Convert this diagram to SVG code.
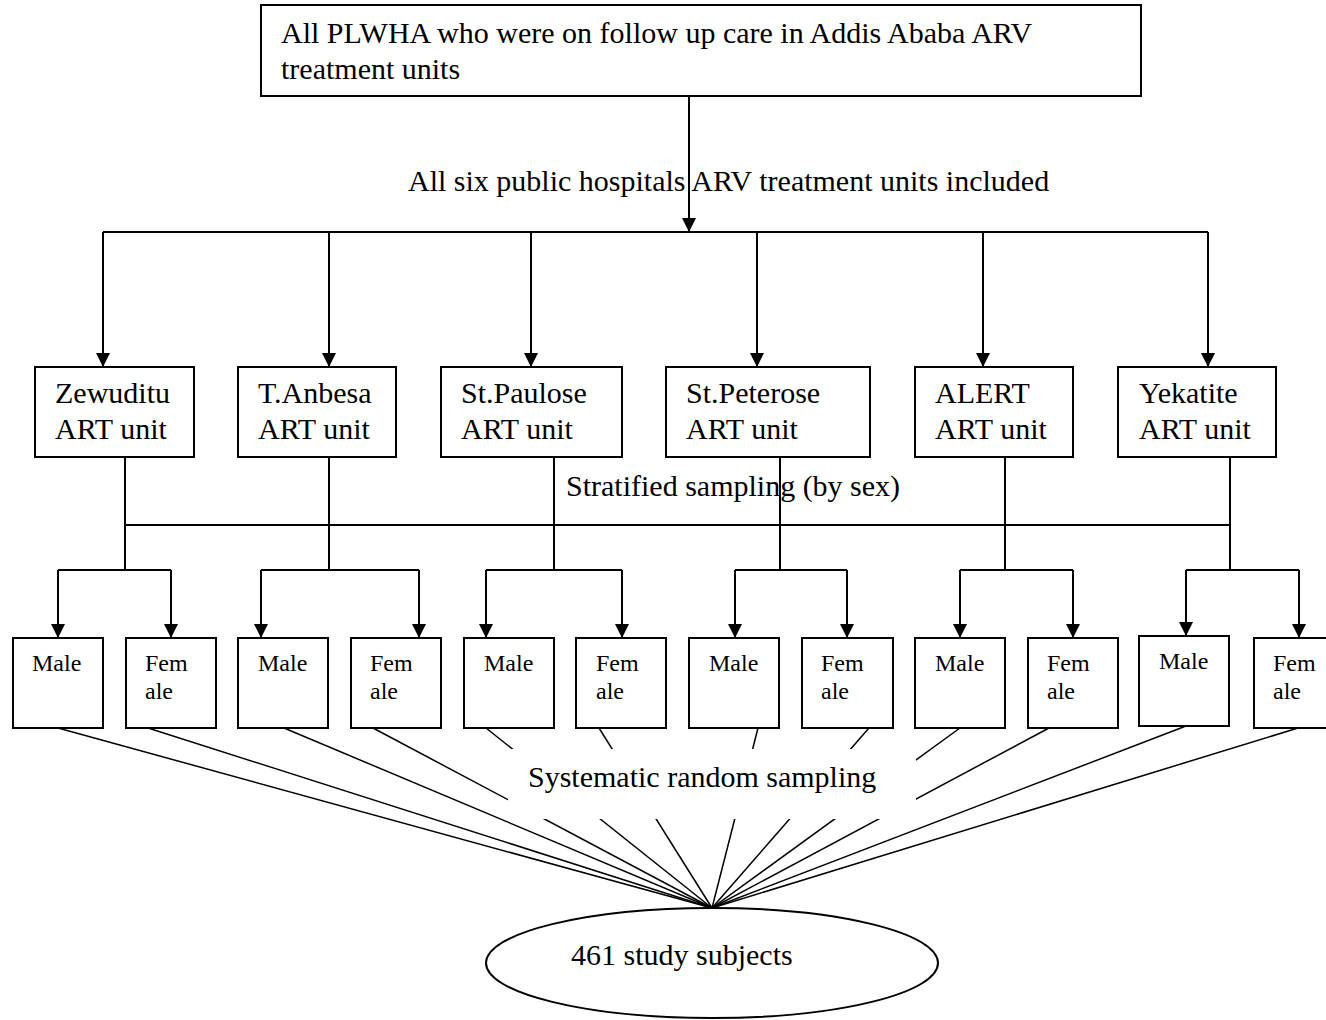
<svg xmlns="http://www.w3.org/2000/svg" width="1326" height="1020" viewBox="0 0 1326 1020">
  <style>
    .box { fill: #ffffff; stroke: #000000; stroke-width: 2; }
    .t { font-family: "Liberation Serif", "Times New Roman", serif; font-size: 30px; fill: #000000; }
    .s { font-family: "Liberation Serif", "Times New Roman", serif; font-size: 24px; fill: #000000; }
    .ln { fill: none; stroke: #000000; stroke-width: 2; }
    .fan { fill: none; stroke: #000000; stroke-width: 1.5; }
    .arr { fill: none; stroke: #000000; stroke-width: 2; marker-end: url(#ah); }
  </style>
  <defs>
    <marker id="ah" viewBox="0 0 14 14" refX="14" refY="7" markerWidth="14" markerHeight="14" markerUnits="userSpaceOnUse" orient="auto">
      <path d="M0,0 L14,7 L0,14 z" fill="#000000"/>
    </marker>
  </defs>
  <rect x="0" y="0" width="1326" height="1020" fill="#ffffff"/>

  <g id="connectors">
    <!-- top to hospitals -->
    <line class="arr" x1="689" y1="96" x2="689" y2="232"/>
    <line class="ln" x1="103" y1="232" x2="1208" y2="232"/>
    <line class="arr" x1="103" y1="232" x2="103" y2="367"/>
    <line class="arr" x1="329" y1="232" x2="329" y2="367"/>
    <line class="arr" x1="531" y1="232" x2="531" y2="367"/>
    <line class="arr" x1="757" y1="232" x2="757" y2="367"/>
    <line class="arr" x1="983" y1="232" x2="983" y2="367"/>
    <line class="arr" x1="1208" y1="232" x2="1208" y2="367"/>
    <!-- stratified -->
    <line class="ln" x1="125" y1="525" x2="1230" y2="525"/>
    <line class="ln" x1="125" y1="457" x2="125" y2="570"/>
    <line class="ln" x1="329" y1="457" x2="329" y2="570"/>
    <line class="ln" x1="554" y1="457" x2="554" y2="570"/>
    <line class="ln" x1="780" y1="457" x2="780" y2="570"/>
    <line class="ln" x1="1005" y1="457" x2="1005" y2="570"/>
    <line class="ln" x1="1230" y1="457" x2="1230" y2="570"/>
    <polyline class="ln" points="58,570 171,570"/>
    <polyline class="ln" points="261,570 419,570"/>
    <polyline class="ln" points="486,570 622,570"/>
    <polyline class="ln" points="735,570 847,570"/>
    <polyline class="ln" points="960,570 1073,570"/>
    <polyline class="ln" points="1186,570 1299,570"/>
    <line class="arr" x1="58" y1="570" x2="58" y2="638"/>
    <line class="arr" x1="171" y1="570" x2="171" y2="638"/>
    <line class="arr" x1="261" y1="570" x2="261" y2="638"/>
    <line class="arr" x1="419" y1="570" x2="419" y2="638"/>
    <line class="arr" x1="486" y1="570" x2="486" y2="638"/>
    <line class="arr" x1="622" y1="570" x2="622" y2="638"/>
    <line class="arr" x1="735" y1="570" x2="735" y2="638"/>
    <line class="arr" x1="847" y1="570" x2="847" y2="638"/>
    <line class="arr" x1="960" y1="570" x2="960" y2="638"/>
    <line class="arr" x1="1073" y1="570" x2="1073" y2="638"/>
    <line class="arr" x1="1186" y1="570" x2="1186" y2="636"/>
    <line class="arr" x1="1299" y1="570" x2="1299" y2="638"/>
    <!-- fan to study subjects -->
    <line class="fan" x1="58" y1="728" x2="712" y2="908"/>
    <line class="fan" x1="148" y1="728" x2="712" y2="908"/>
    <line class="fan" x1="284" y1="728" x2="712" y2="908"/>
    <line class="fan" x1="373" y1="728" x2="712" y2="908"/>
    <line class="fan" x1="486" y1="728" x2="712" y2="908"/>
    <line class="fan" x1="599" y1="728" x2="712" y2="908"/>
    <line class="fan" x1="758" y1="728" x2="712" y2="908"/>
    <line class="fan" x1="869" y1="728" x2="712" y2="908"/>
    <line class="fan" x1="960" y1="728" x2="712" y2="908"/>
    <line class="fan" x1="1049" y1="728" x2="712" y2="908"/>
    <line class="fan" x1="1186" y1="726" x2="712" y2="908"/>
    <line class="fan" x1="1298" y1="728" x2="712" y2="908"/>
  </g>

  <g id="label-hospitals">
    <text class="t" x="408" y="191">All six public hospitals ARV treatment units included</text>
  </g>
  <g id="label-stratified">
    <text class="t" x="566" y="496">Stratified sampling (by sex)</text>
  </g>
  <g id="label-systematic">
    <rect x="508" y="749" width="408" height="70" fill="#ffffff"/>
    <text class="t" x="528" y="787">Systematic random sampling</text>
  </g>

  <g id="node-all">
    <rect class="box" x="261" y="5" width="880" height="91"/>
    <text class="t" x="281" y="43">All PLWHA who were on follow up care in Addis Ababa ARV</text>
    <text class="t" x="281" y="79">treatment units</text>
  </g>

  <g id="node-zewuditu">
    <rect class="box" x="35" y="367" width="159" height="90"/>
    <text class="t" x="55" y="403">Zewuditu</text>
    <text class="t" x="55" y="439">ART unit</text>
  </g>
  <g id="node-tanbesa">
    <rect class="box" x="238" y="367" width="158" height="90"/>
    <text class="t" x="258" y="403">T.Anbesa</text>
    <text class="t" x="258" y="439">ART unit</text>
  </g>
  <g id="node-stpaulose">
    <rect class="box" x="441" y="367" width="181" height="90"/>
    <text class="t" x="461" y="403">St.Paulose</text>
    <text class="t" x="461" y="439">ART unit</text>
  </g>
  <g id="node-stpeterose">
    <rect class="box" x="666" y="367" width="204" height="90"/>
    <text class="t" x="686" y="403">St.Peterose</text>
    <text class="t" x="686" y="439">ART unit</text>
  </g>
  <g id="node-alert">
    <rect class="box" x="915" y="367" width="158" height="90"/>
    <text class="t" x="935" y="403">ALERT</text>
    <text class="t" x="935" y="439">ART unit</text>
  </g>
  <g id="node-yekatite">
    <rect class="box" x="1118" y="367" width="158" height="90"/>
    <text class="t" x="1139" y="403">Yekatite</text>
    <text class="t" x="1139" y="439">ART unit</text>
  </g>

  <g id="node-male-1"><rect class="box" x="13" y="638" width="90" height="90"/><text class="s" x="32" y="671">Male</text></g>
  <g id="node-female-1"><rect class="box" x="126" y="638" width="90" height="90"/><text class="s" x="145" y="671">Fem</text><text class="s" x="145" y="699">ale</text></g>
  <g id="node-male-2"><rect class="box" x="238" y="638" width="90" height="90"/><text class="s" x="258" y="671">Male</text></g>
  <g id="node-female-2"><rect class="box" x="351" y="638" width="90" height="90"/><text class="s" x="370" y="671">Fem</text><text class="s" x="370" y="699">ale</text></g>
  <g id="node-male-3"><rect class="box" x="464" y="638" width="90" height="90"/><text class="s" x="484" y="671">Male</text></g>
  <g id="node-female-3"><rect class="box" x="576" y="638" width="90" height="90"/><text class="s" x="596" y="671">Fem</text><text class="s" x="596" y="699">ale</text></g>
  <g id="node-male-4"><rect class="box" x="689" y="638" width="90" height="90"/><text class="s" x="709" y="671">Male</text></g>
  <g id="node-female-4"><rect class="box" x="802" y="638" width="91" height="90"/><text class="s" x="821" y="671">Fem</text><text class="s" x="821" y="699">ale</text></g>
  <g id="node-male-5"><rect class="box" x="915" y="638" width="90" height="90"/><text class="s" x="935" y="671">Male</text></g>
  <g id="node-female-5"><rect class="box" x="1028" y="638" width="90" height="90"/><text class="s" x="1047" y="671">Fem</text><text class="s" x="1047" y="699">ale</text></g>
  <g id="node-male-6"><rect class="box" x="1139" y="636" width="90" height="90"/><text class="s" x="1159" y="669">Male</text></g>
  <g id="node-female-6"><rect class="box" x="1254" y="638" width="90" height="90"/><text class="s" x="1273" y="671">Fem</text><text class="s" x="1273" y="699">ale</text></g>

  <g id="node-subjects">
    <ellipse class="box" cx="712" cy="963" rx="226" ry="55"/>
    <text class="t" x="571" y="965">461 study subjects</text>
  </g>
</svg>
